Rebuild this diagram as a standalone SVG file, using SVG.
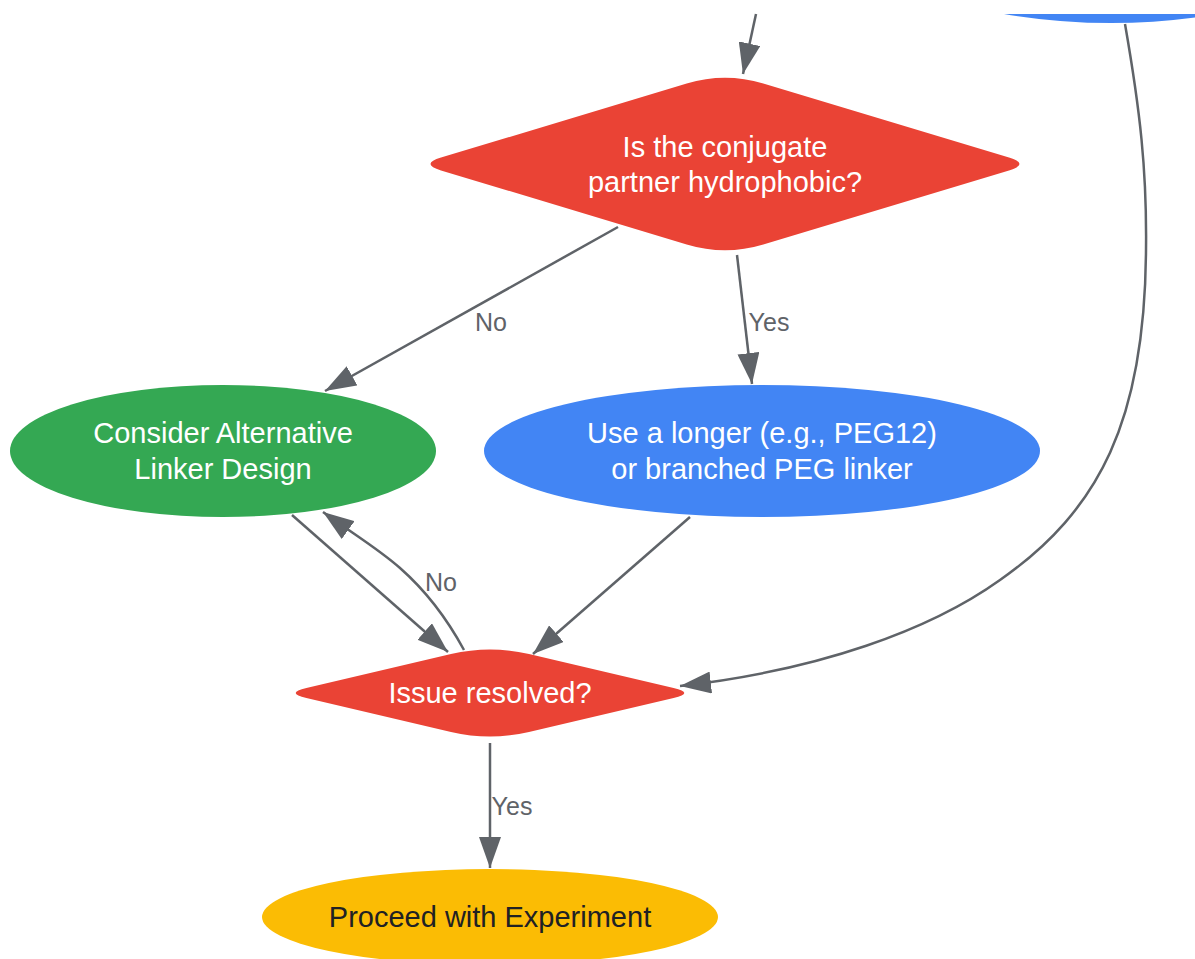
<svg xmlns="http://www.w3.org/2000/svg" width="1195" height="959" viewBox="0 0 1195 959">
<defs>
<marker id="arrow" viewBox="0 0 31 22" refX="31" refY="11" markerWidth="31" markerHeight="22" markerUnits="userSpaceOnUse" orient="auto">
<path d="M0,0 L31,11 L0,22 Z" fill="#5F6368"/>
</marker>
<style>
.edge{fill:none;stroke:#5F6368;stroke-width:2.5;marker-end:url(#arrow);}
.lbl{font-family:"Liberation Sans",Arial,sans-serif;font-size:25px;fill:#5F6368;text-anchor:middle;}
.txt{font-family:"Liberation Sans",Arial,sans-serif;font-size:29px;fill:#FFFFFF;text-anchor:middle;}
.dark{fill:#202124;}
</style>
</defs>
<rect width="1195" height="959" fill="#FFFFFF"/>
<g id="topnode">
<path d="M1004,14 Q1111,32 1218,14 Z" fill="#4285F4"/>
</g>
<g id="q1">
<path d="M686.7,83.6 Q725,72 763.3,83.6 L1009,157.6 Q1030,164 1009,170.4 L763.3,244.4 Q725,256 686.7,244.4 L441,170.4 Q420,164 441,157.6 Z" fill="#EA4335"/>
<text class="txt" x="725" y="157">Is the conjugate</text>
<text class="txt" x="725" y="192">partner hydrophobic?</text>
</g>
<g id="alt">
<ellipse cx="223" cy="451" rx="213" ry="66" fill="#34A853"/>
<text class="txt" x="223" y="443">Consider Alternative</text>
<text class="txt" x="223" y="479">Linker Design</text>
</g>
<g id="longer">
<ellipse cx="762" cy="451" rx="278" ry="66" fill="#4285F4"/>
<text class="txt" x="762" y="443">Use a longer (e.g., PEG12)</text>
<text class="txt" x="762" y="479">or branched PEG linker</text>
</g>
<g id="q2">
<path d="M451,654.1 Q490,645 529,654.1 L673.6,688 Q695,693 673.6,698 L529,731.9 Q490,741 451,731.9 L306.4,698 Q285,693 306.4,688 Z" fill="#EA4335"/>
<text class="txt" x="490" y="703">Issue resolved?</text>
</g>
<g id="proceed">
<ellipse cx="490" cy="917" rx="228" ry="48" fill="#FBBC04"/>
<text class="txt dark" x="490" y="927">Proceed with Experiment</text>
</g>
<g id="connectors">
<path class="edge" d="M756,14 L743,74"/>
<path class="edge" d="M618,227 L325,391"/>
<path class="edge" d="M737,255 L752,384"/>
<path class="edge" d="M292,515 L448,652"/>
<path class="edge" d="M464,650 C445,615 425,590 400,568 C380,550 355,535 323,512"/>
<path class="edge" d="M690,517 L533,654"/>
<path class="edge" d="M1125,24 C1140,110 1147,170 1146,250 C1145,420 1100,510 1000,580 C930,630 820,670 680,686"/>
<path class="edge" d="M490,743 L490,868"/>
<text class="lbl" x="491" y="331">No</text>
<text class="lbl" x="769" y="331">Yes</text>
<text class="lbl" x="441" y="591">No</text>
<text class="lbl" x="512" y="815">Yes</text>
</g>
</svg>
